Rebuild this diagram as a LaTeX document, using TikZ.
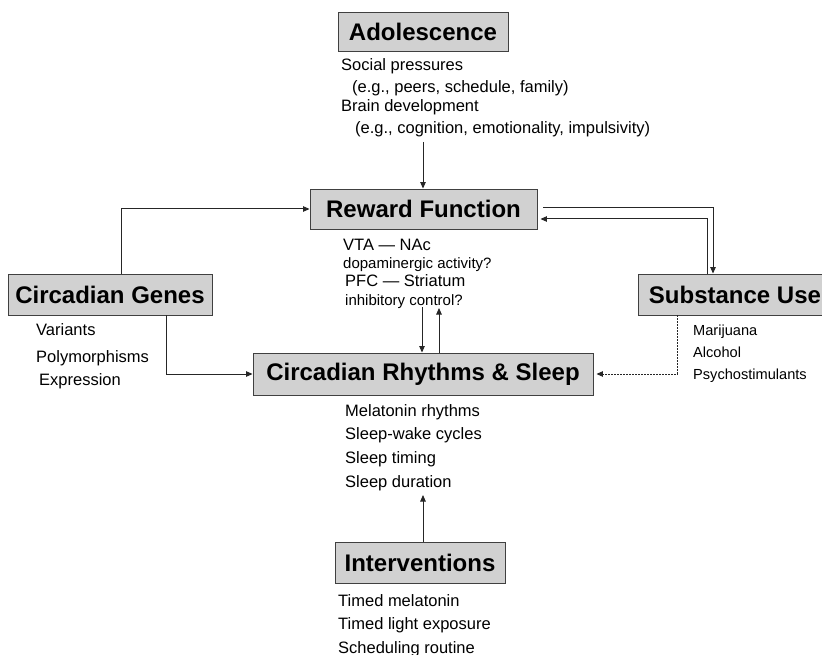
\documentclass[tikz,border=0pt]{standalone}
\usepackage{fontspec}
\setmainfont{Liberation Sans}
\usetikzlibrary{arrows.meta,shadows}

\begin{document}
\begin{tikzpicture}[x=1pt,y=-1pt,box/.style={draw=black!75,fill=black!18,line width=0.9pt,inner sep=0pt,font=\fontsize{24}{28}\selectfont\bfseries,drop shadow={shadow xshift=1pt,shadow yshift=-1pt,fill=black!45,opacity=0.8}},item/.style={anchor=base west,inner sep=0pt,font=\fontsize{16.5}{20}\selectfont},note/.style={item,font=\fontsize{15}{18}\selectfont},drug/.style={item,font=\fontsize{14.6}{18}\selectfont},arrow/.style={-{Triangle[length=6.5pt,width=5.5pt]},line width=1pt,draw=black!85},link/.style={line width=1pt,draw=black!85}]
\useasboundingbox (0,0) rectangle (822,655);
\node[box,minimum width=170pt,minimum height=39pt] (ado) at (423,31.5) {Adolescence};
\node[box,minimum width=227pt,minimum height=40pt] (rf) at (423.5,209) {Reward Function};
\node[box,minimum width=204pt,minimum height=41pt] (genes) at (110,294.5) {Circadian Genes};
\node[box,minimum width=194pt,minimum height=41pt] (subst) at (735,294.5) {Substance Use};
\node[box,minimum width=340pt,minimum height=42pt] (crs) at (423,374) {Circadian Rhythms \& Sleep};
\node[box,minimum width=170pt,minimum height=41pt] (intv) at (420,562.5) {Interventions};
% adolescence
\node[item] (ado1) at (341,71) {Social pressures};
\node[item] (ado2) at (352,93) {(e.g., peers, schedule, family)};
\node[item] (ado3) at (341,112) {Brain development};
\node[item] (ado4) at (355,134) {(e.g., cognition, emotionality, impulsivity)};
% reward
\node[item] (rf1) at (343,251) {VTA — NAc};
\node[note] (rf2) at (343,268.5) {dopaminergic activity?};
\node[item] (rf3) at (345,287) {PFC — Striatum};
\node[note] (rf4) at (345,305.5) {inhibitory control?};
% genes
\node[item] (genes1) at (36,335) {Variants};
\node[item] (genes2) at (36,362) {Polymorphisms};
\node[item] (genes3) at (39,385) {Expression};
% substances
\node[drug] (subst1) at (693,335.5) {Marijuana};
\node[drug] (subst2) at (693,357.5) {Alcohol};
\node[drug] (subst3) at (693,379.5) {Psychostimulants};
% rhythms
\node[item] (crs1) at (345,416) {Melatonin rhythms};
\node[item] (crs2) at (345,439) {Sleep-wake cycles};
\node[item] (crs3) at (345,463) {Sleep timing};
\node[item] (crs4) at (345,487) {Sleep duration};
% interventions
\node[item] (intv1) at (338,606) {Timed melatonin};
\node[item] (intv2) at (338,629) {Timed light exposure};
\node[item] (intv3) at (338,653) {Scheduling routine};
% connectors
\coordinate (adoo) at (423,142);
\coordinate (rfo) at (422,307);
\coordinate (rfi) at (439,308);
\coordinate (crsi) at (423,495);
\draw[arrow] (adoo) -- (adoo |- rf.north);
\draw[arrow] ([xshift=11pt]genes.north) |- (rf.west);
\draw[arrow] ([xshift=56pt]genes.south) |- (crs.west);
\draw[arrow] ([xshift=6pt,yshift=1pt]rf.east) -| ([xshift=-22pt]subst.north);
\draw[arrow] ([xshift=-28pt]subst.north) |- ([xshift=3pt,yshift=-10pt]rf.east);
\draw[arrow] (rfo) -- (rfo |- crs.north);
\draw[arrow] (crs.north -| rfi) -- (rfi);
\draw[arrow,dash pattern=on 1.6pt off 1.4pt] ([xshift=-58pt]subst.south) |- ([xshift=3pt]crs.east);
\draw[arrow] (intv.north -| crsi) -- (crsi);
\end{tikzpicture}
\end{document}
